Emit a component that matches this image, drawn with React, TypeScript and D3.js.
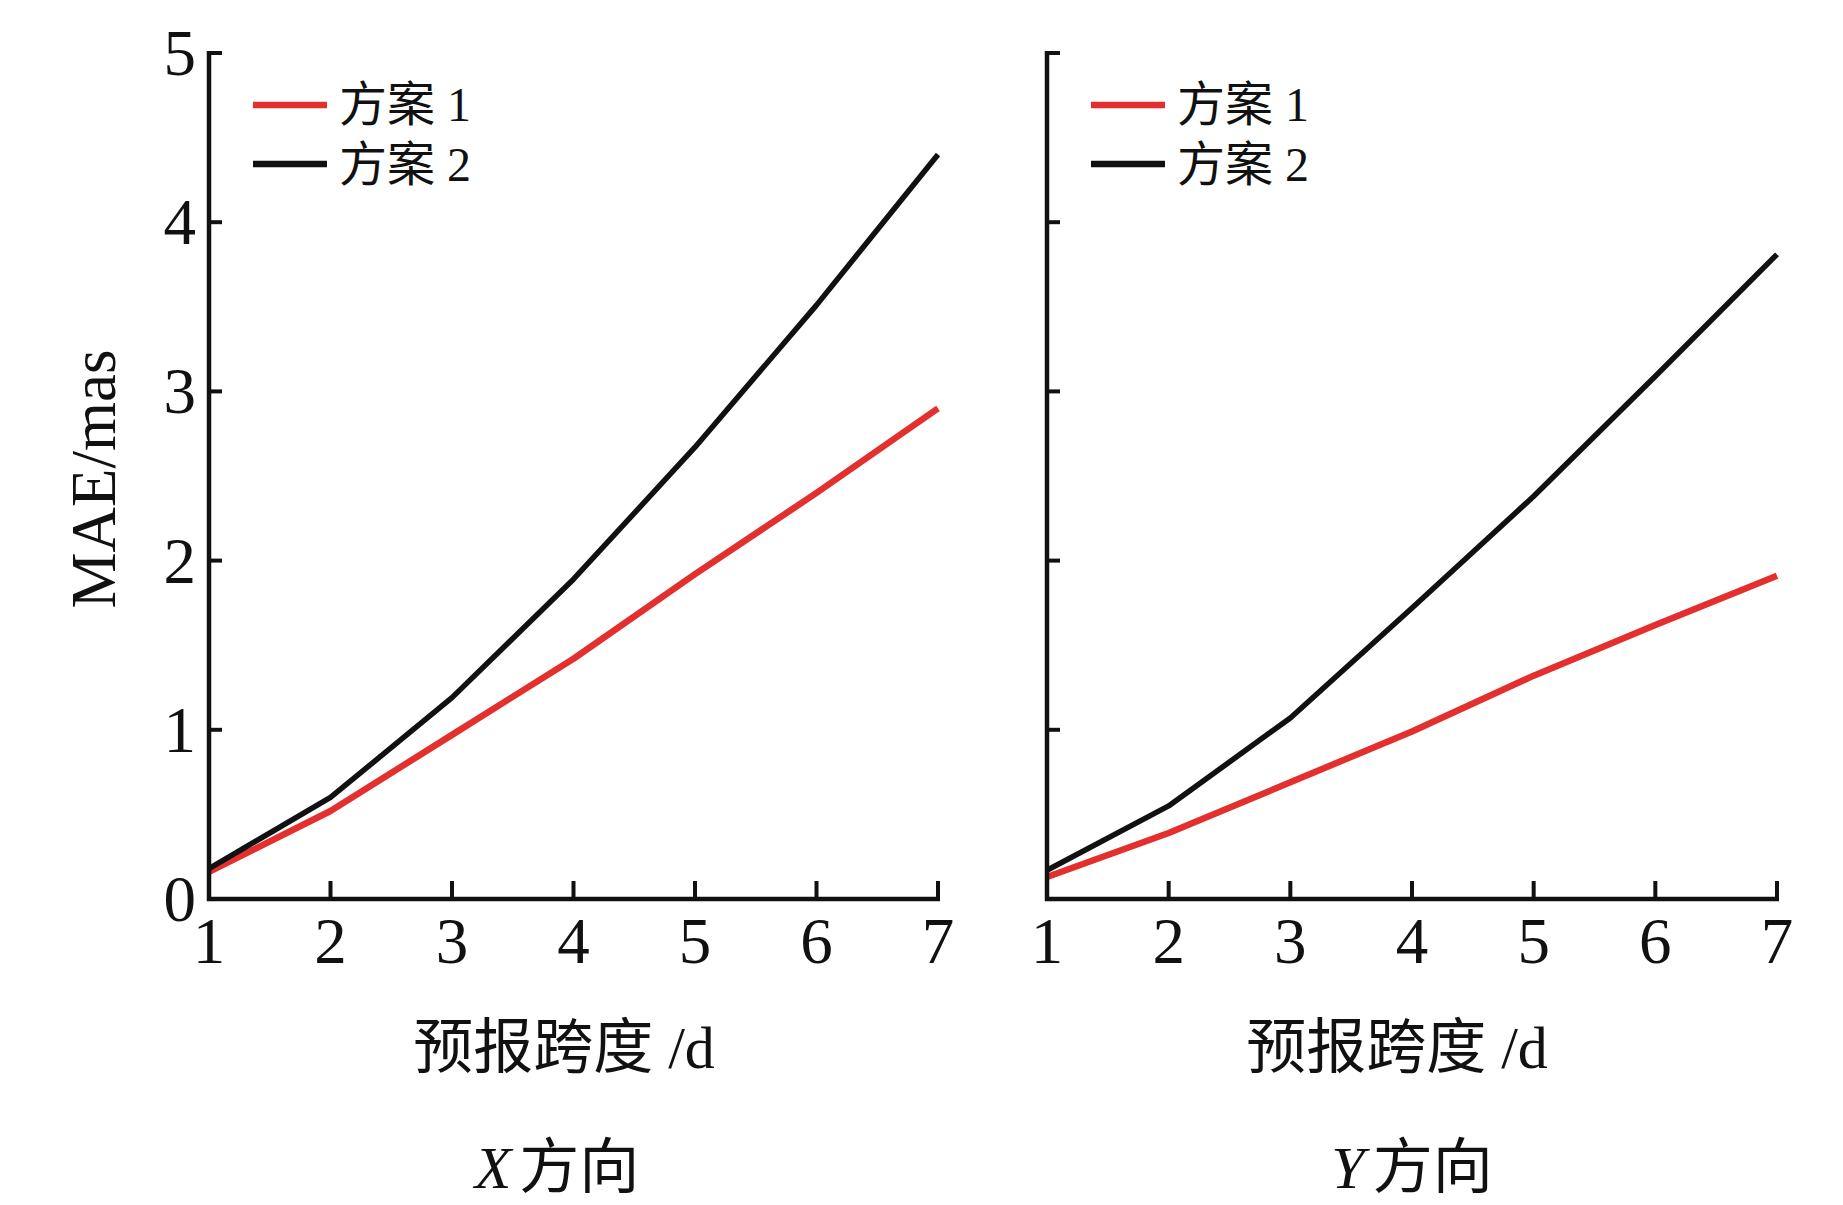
import React from "react";
import * as d3 from "d3";

const days = [1, 2, 3, 4, 5, 6, 7];
const xScheme1 = [0.16, 0.52, 0.97, 1.42, 1.92, 2.4, 2.9];
const xScheme2 = [0.18, 0.6, 1.19, 1.89, 2.67, 3.51, 4.4];
const yScheme1 = [0.13, 0.39, 0.69, 0.99, 1.32, 1.62, 1.91];
const yScheme2 = [0.17, 0.55, 1.07, 1.72, 2.38, 3.09, 3.81];
const yTicks = [0, 1, 2, 3, 4, 5];
const seriesNames = ["方案 1", "方案 2"];
const seriesColors = ["#e3302f", "#111111"];
const FONT = "'Liberation Serif', 'Times New Roman', 'Noto Sans CJK SC', serif";

type PanelProps = {
  x0: number;
  x1: number;
  s1: number[];
  s2: number[];
  showYLabels: boolean;
  titleCx: number;
  subCx: number;
  dir: string;
};

const Y0 = 899;
const Y5 = 53;

function Panel({ x0, x1, s1, s2, showYLabels, titleCx, subCx, dir }: PanelProps) {
  const x = d3.scaleLinear().domain([1, 7]).range([x0, x1]);
  const y = d3.scaleLinear().domain([0, 5]).range([Y0, Y5]);
  const line = d3
    .line<number>()
    .x((_, i) => x(days[i]))
    .y((v) => y(v))
    .curve(d3.curveLinear);
  const series = [s1, s2];
  return (
    <g>
      {series.map((s, i) => (
        <path
          key={i}
          d={line(s) || ""}
          fill="none"
          stroke={seriesColors[i]}
          strokeWidth={i === 0 ? 6.5 : 5.5}
          strokeLinejoin="round"
        />
      ))}
      <line x1={x0} x2={x0} y1={Y5 - 2} y2={Y0 + 2} stroke="#111" strokeWidth={4.5} />
      <line x1={x0 - 2} x2={x1 + 2} y1={Y0} y2={Y0} stroke="#111" strokeWidth={4.5} />
      {yTicks.map((t) => (
        <g key={"yt" + t}>
          <line x1={x0} x2={x0 + 13} y1={y(t)} y2={y(t)} stroke="#111" strokeWidth={4} />
          {showYLabels && (
            <text
              x={x0 - 13}
              y={y(t) + 22}
              textAnchor="end"
              fontFamily={FONT}
              fontSize={65}
              fill="#111"
            >
              {t}
            </text>
          )}
        </g>
      ))}
      {days.map((d) => (
        <g key={"xt" + d}>
          <line x1={x(d)} x2={x(d)} y1={Y0} y2={Y0 - 18} stroke="#111" strokeWidth={4} />
          <text x={x(d)} y={963} textAnchor="middle" fontFamily={FONT} fontSize={65} fill="#111">
            {d}
          </text>
        </g>
      ))}
      {seriesNames.map((n, i) => (
        <g key={n}>
          <line
            x1={x0 + 44}
            x2={x0 + 118}
            y1={105 + i * 59}
            y2={105 + i * 59}
            stroke={seriesColors[i]}
            strokeWidth={6.5}
          />
          <text x={x0 + 130} y={121 + i * 60} fontFamily={FONT} fontSize={48} fill="#111">
            {n}
          </text>
        </g>
      ))}
      <text x={titleCx} y={1068} textAnchor="middle" fontFamily={FONT} fontSize={60} fill="#111">
        预报跨度 /d
      </text>
      <text x={subCx} y={1188} textAnchor="middle" fontFamily={FONT} fontSize={60} fill="#111">
        <tspan fontStyle="italic">{dir}</tspan>
        <tspan dx={8}>方向</tspan>
      </text>
    </g>
  );
}

export default function App() {
  return (
    <svg
      width={1843}
      height={1205}
      style={{ position: "absolute", left: 0, top: 0, background: "#fff" }}
    >
      <rect width={1843} height={1205} fill="#fff" />
      <Panel
        x0={209}
        x1={938}
        s1={xScheme1}
        s2={xScheme2}
        showYLabels={true}
        titleCx={564}
        subCx={557}
        dir="X"
      />
      <Panel
        x0={1047}
        x1={1777}
        s1={yScheme1}
        s2={yScheme2}
        showYLabels={false}
        titleCx={1397}
        subCx={1412}
        dir="Y"
      />
      <text
        transform="translate(115,479) rotate(-90)"
        textAnchor="middle"
        fontFamily={FONT}
        fontSize={63}
        fill="#111"
      >
        MAE/mas
      </text>
    </svg>
  );
}
